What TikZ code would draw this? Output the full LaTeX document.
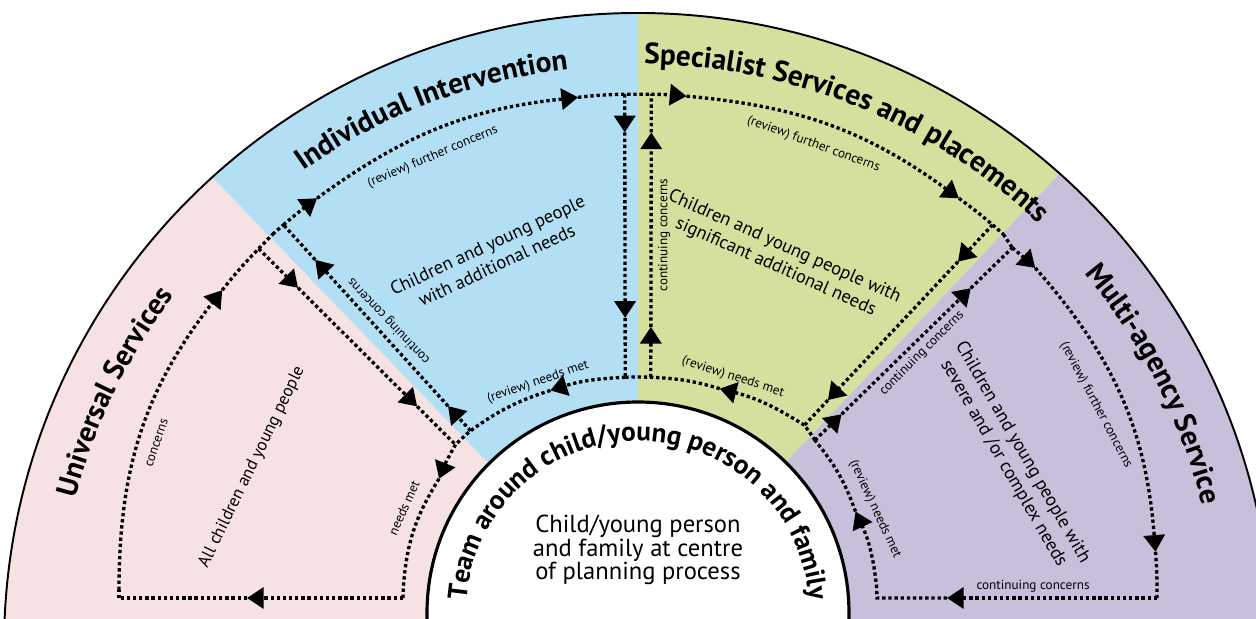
\documentclass[tikz,border=0pt]{standalone}
\usepackage{fontspec}
\setmainfont{PT Sans}
\usetikzlibrary{arrows.meta,calc,decorations.text}
\definecolor{universal}{HTML}{F6E2E2}
\definecolor{individual}{HTML}{B3DFF5}
\definecolor{specialist}{HTML}{D4E09E}
\definecolor{multiagency}{HTML}{C8C0DB}
\newcommand{\titlefont}{\fontsize{16.7}{19}\bfseries\selectfont}
\newcommand{\teamfont}{\fontsize{15.5}{17}\bfseries\selectfont}
\tikzset{
    %Define standard arrow tip
    >={Triangle[width=12pt,length=9.5pt]},
    %Define style for the dotted flow lines
    flow/.style={
           line width=1.9pt,
           dash pattern=on 1.9pt off 1.6pt},
    % Define arrow style
    pil/.style={
           flow,
           ->},
    %Define style for small labels
    lab/.style={
           font=\fontsize{7.5}{8.5}\selectfont,
           inner sep=1pt},
    grouptext/.style={
           font=\fontsize{10.5}{12.5}\selectfont,
           align=center,
           inner sep=0pt},
    heading/.style={
           decorate,
           decoration={text along path, text align=center,
                       text={|\titlefont|#1}}}
}
\begin{document}
\begin{tikzpicture}[x=0.02cm,y=0.02cm]
\useasboundingbox (0,0) rectangle (1256,618);
% centres
\coordinate (Co) at (638,-29);
\coordinate (Cs) at (638,0);
\coordinate (Cw) at (638,5);
\coordinate (Ct) at (638,-22);
\coordinate (Cb) at (638,-52);
\coordinate (Cl) at (606,28);
\coordinate (Cr) at (670,28);

% sectors
\begin{scope}
\clip (0,0) rectangle (1256,618);
\begin{scope}
\clip (Co) circle[radius=634];
\fill[universal] (Cs) -- ($(Cs)+(134:900)$) -- (-60,650) -- (-60,-60) -- cycle;
\fill[individual] (Cs) -- ($(Cs)+(134:900)$) -- ($(Cs)+(90:900)$) -- cycle;
\fill[specialist] (Cs) -- ($(Cs)+(90:900)$) -- ($(Cs)+(46.5:900)$) -- cycle;
\fill[multiagency] (Cs) -- ($(Cs)+(46.5:900)$) -- (1320,650) -- (1320,-60) -- cycle;
\end{scope}
\draw[line width=1.1pt] (Co) circle[radius=634];
\draw[line width=1.8pt, fill=white] (Cw) circle[radius=211];
\end{scope}

% further concerns arc
\coordinate (J2) at ($(Ct)+(132:546)$);
\coordinate (D2) at ($(Ct)+(130.5:546)$);
\coordinate (T1) at ($(Ct)+(126:546)$);
\coordinate (T2) at ($(Ct)+(96.3:546)$);
\coordinate (V1t) at ($(Ct)+(91.4:546)$);
\coordinate (V2t) at ($(Ct)+(88.6:546)$);
\coordinate (T3) at ($(Ct)+(84.9:546)$);
\coordinate (T4) at ($(Ct)+(54:546)$);
\coordinate (D4) at ($(Ct)+(49.5:546)$);
\coordinate (J3) at ($(Ct)+(48:546)$);
% needs met arc
\coordinate (J4) at ($(Cb)+(52.4:290)$);
\coordinate (D6) at ($(Cb)+(55.8:296)$);
\coordinate (N1) at ($(Cb)+(73.8:293)$);
\coordinate (V2b) at ($(Cb)+(87.5:293)$);
\coordinate (V1b) at ($(Cb)+(92.5:293)$);
\coordinate (N2) at ($(Cb)+(107.4:293)$);
\coordinate (D3) at ($(Cb)+(125:292)$);
\coordinate (J1) at ($(Cb)+(129:290)$);
% universal loop
\coordinate (U1) at (119,20);
\coordinate (U2) at ($(Cl)+(180:487)$);
\coordinate (U3) at ($(Cl)+(142:487)$);
\coordinate (D1) at ($(Cl)+(135.5:487)$);
\coordinate (U4) at (403,20);
\coordinate (U5) at (247,20);
\coordinate (U6) at ($(Cw)+(174:236)$);
\coordinate (U7) at ($(Cw)+(146:240)$);
% multi-agency loop
\coordinate (D5) at ($(Cr)+(45:484)$);
\coordinate (R1) at ($(Cr)+(41.4:487)$);
\coordinate (R2) at ($(Cr)+(4.5:487)$);
\coordinate (R3) at ($(Cr)+(0:487)$);
\coordinate (R4) at (1157,20);
\coordinate (R5) at (947,20);
\coordinate (R6) at (877,20);
\coordinate (R7) at ($(Cw)+(6:240)$);
\coordinate (R8) at ($(Cw)+(25:240)$);
% arrow points on the straight runs
\coordinate (P1) at ($(D1)!0.2!(J1)$);
\coordinate (P2) at ($(D1)!0.805!(J1)$);
\coordinate (B1) at ($(D3)!0.12!(D2)$);
\coordinate (B2) at ($(D3)!0.83!(D2)$);
\coordinate (K1) at ($(V1t)!0.135!(V1b)$);
\coordinate (K2) at ($(V1t)!0.79!(V1b)$);
\coordinate (K3) at ($(V2b)!0.178!(V2t)$);
\coordinate (K4) at ($(V2b)!0.865!(V2t)$);
\coordinate (G1) at ($(D4)!0.184!(D6)$);
\coordinate (G2) at ($(D4)!0.875!(D6)$);
\coordinate (Q1) at ($(J4)!0.135!(D5)$);
\coordinate (Q2) at ($(J4)!0.79!(D5)$);

% universal services
\draw[flow] (U1) -- (U2);
\draw[pil] (U2) to[bend left=19] (U3);
\draw[flow] (U3) to[bend left=3] (D1) -- (J2);
\draw[pil] (U4) -- (U5);
\draw[flow] (U5) -- (U1);
\draw[pil] (J1) to[bend right=4] (U7);
\draw[flow] (U7) to[bend right=14] (U6) -- (U4);
\draw[pil] (D1) -- (P1);
\draw[pil] (P1) -- (P2);
\draw[flow] (P2) -- (J1);
% individual intervention
\draw[pil] (D3) -- (B1);
\draw[pil] (B1) -- (B2);
\draw[flow] (B2) -- (D2);
\draw[flow] (J2) -- (D2);
\draw[pil] (D2) to[bend left=2] (T1);
\draw[pil] (T1) to[bend left=15] (T2);
\draw[flow] (T2) to[bend left=2.5] (V1t) -- (V2t);
\draw[pil] (V1t) -- (K1);
\draw[pil] (K1) -- (K2);
\draw[flow] (K2) -- (V1b);
% specialist services
\draw[pil] (V2t) to[bend left=2] (T3);
\draw[pil] (T3) to[bend left=15.5] (T4);
\draw[flow] (T4) to[bend left=2] (D4) -- (J3);
\draw[pil] (V2b) -- (K3);
\draw[pil] (K3) -- (K4);
\draw[flow] (K4) -- (V2t);
\draw[pil] (D4) -- (G1);
\draw[pil] (G1) -- (G2);
\draw[flow] (G2) -- (D6);
% needs met arc
\draw[flow] (J4) to[bend right=2] (D6);
\draw[pil] (D6) to[bend right=9] (N1);
\draw[flow] (N1) to[bend right=7] (V2b) to[bend right=2.5] (V1b);
\draw[pil] (V1b) to[bend right=7.5] (N2);
\draw[flow] (N2) to[bend right=9] (D3) to[bend right=2] (J1);
% multi-agency service
\draw[flow] (J3) -- (D5);
\draw[pil] (D5) to[bend left=1.5] (R1);
\draw[pil] (R1) to[bend left=18.5] (R2);
\draw[flow] (R2) to[bend left=2.3] (R3) -- (R4);
\draw[pil] (R4) -- (R5);
\draw[flow] (R5) -- (R6) -- (R7);
\draw[pil] (R7) to[bend right=9.5] (R8);
\draw[flow] (R8) to[bend right=9.7] (J4);
\draw[pil] (J4) -- (Q1);
\draw[pil] (Q1) -- (Q2);
\draw[flow] (Q2) -- (D5);

% flow labels
\node[lab, rotate=23] (fc1) at ($(Ct)+(113:525)$) {(review) further concerns};
\node[lab, rotate=-20] (fc2) at ($(Ct)+(70.5:526)$) {(review) further concerns};
\node[lab, rotate=-62] (fc3) at (1096,213) {(review) further concerns};
\node[lab, rotate=71] (con) at (157,175) {concerns};
\node[lab, rotate=66] (nm0) at (404,110) {needs met};
\node[lab, rotate=19] (nm1) at (538,236) {(review) needs met};
\node[lab, rotate=-18] (nm2) at (733,241) {(review) needs met};
\node[lab, rotate=-65] (nm3) at (875,109) {(review) needs met};
\node[lab, rotate=133.5] (cc1) at (389,297) {continuing concerns};
\node[lab, rotate=90] (cc2) at (664,383) {continuing concerns};
\node[lab, rotate=45] (cc3) at (922,265) {continuing concerns};
\node[lab] (cc4) at (1033,32) {continuing concerns};

% groups of children
\node[grouptext, font=\fontsize{9.8}{12}\selectfont, rotate=64] (all) at (252,151) {All children and young people};
\node[grouptext, rotate=25] (add) at (492,363) {Children and young people\\with additional needs};
\node[grouptext, rotate=-24] (sig) at (780,361) {Children and young people with\\significant additional needs};
\node[grouptext, rotate=-60] (sev) at (1013,160) {Children and young people with\\severe and /or complex needs};
\node[align=center, font=\fontsize{14}{13.5}\selectfont] (ctr) at (638,68) {Child/young person\\and family at centre\\of planning process};

% headings
\path[heading={Universal Services}] ($(Co)+(176:582)$) arc[start angle=176, end angle=132, radius=582];
\path[heading={Individual Intervention}] ($(Co)+(141:582)$) arc[start angle=141, end angle=81, radius=582];
\path[heading={Specialist Services and placements}] ($(Co)+(102.5:583)$) arc[start angle=102.5, end angle=33.5, radius=583];
\path[heading={Multi-agency Service}] ($(Co)+(57:582)$) arc[start angle=57, end angle=-3, radius=582];
\path[decorate, decoration={text along path, text align=center,
      text={|\teamfont|Team around child/young person and family}}]
      ($(Cw)+(200:172)$) arc[start angle=200, end angle=-20, radius=172];
\end{tikzpicture}
\end{document}
